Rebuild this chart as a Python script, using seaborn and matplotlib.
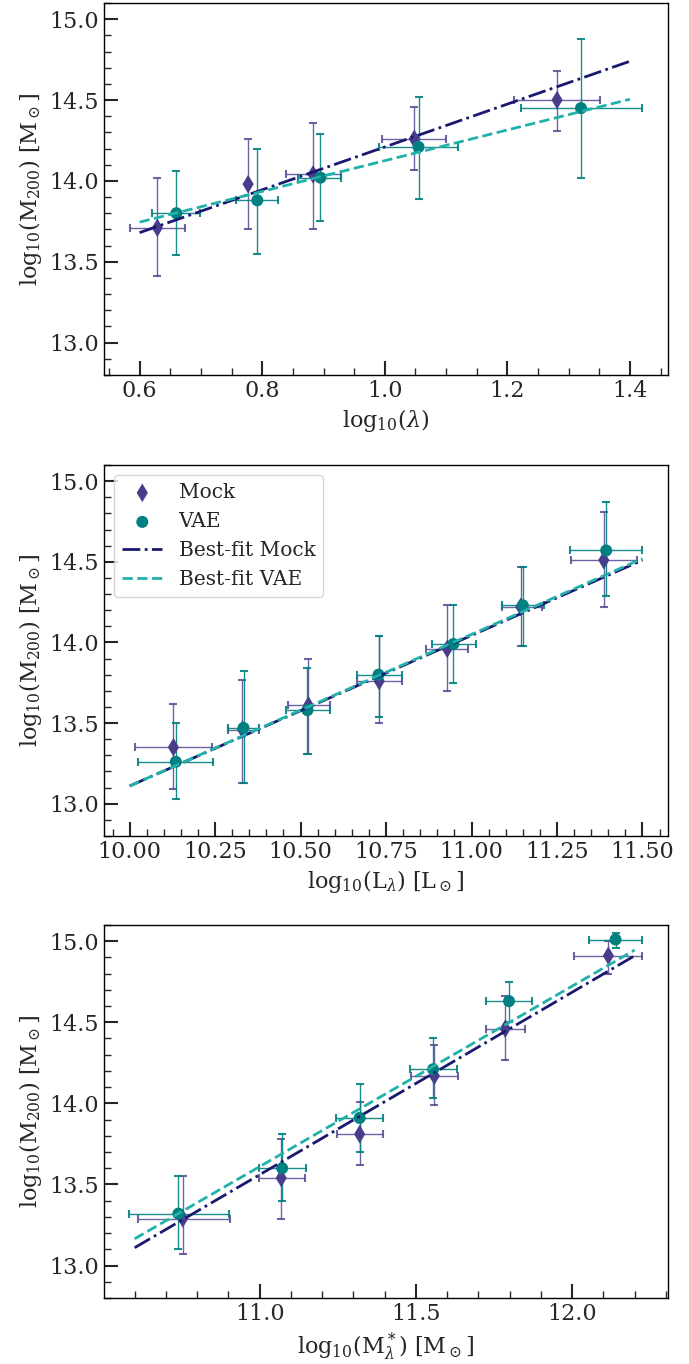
import numpy as np
import pandas as pd
import matplotlib
matplotlib.use('Agg')
import matplotlib.pyplot as plt
from matplotlib.ticker import MultipleLocator
import seaborn as sns

# ---------------- data ----------------
# panel 1: richness
lam_mock_x = [0.629, 0.777, 0.883, 1.048, 1.281]
lam_mock_xlo = [0.584, 0.774, 0.838, 0.996, 1.210]
lam_mock_xhi = [0.674, 0.780, 0.929, 1.100, 1.351]
lam_mock_y = [13.71, 13.98, 14.04, 14.26, 14.50]
lam_mock_ylo = [13.41, 13.70, 13.70, 14.07, 14.31]
lam_mock_yhi = [14.02, 14.26, 14.36, 14.46, 14.68]

lam_vae_x = [0.660, 0.792, 0.895, 1.055, 1.320]
lam_vae_xlo = [0.621, 0.757, 0.859, 0.990, 1.222]
lam_vae_xhi = [0.698, 0.825, 0.929, 1.120, 1.420]
lam_vae_y = [13.80, 13.88, 14.02, 14.21, 14.45]
lam_vae_ylo = [13.54, 13.55, 13.75, 13.89, 14.02]
lam_vae_yhi = [14.06, 14.20, 14.29, 14.52, 14.88]

lam_fit_x = [0.6, 1.4]
lam_fit_mock = [13.68, 14.74]
lam_fit_vae = [13.745, 14.505]

# panel 2: luminosity
lum_mock_x = [10.128, 10.330, 10.523, 10.730, 10.929, 11.144, 11.387]
lum_mock_xlo = [10.016, 10.288, 10.462, 10.666, 10.868, 11.088, 11.292]
lum_mock_xhi = [10.242, 10.378, 10.586, 10.797, 10.991, 11.205, 11.484]
lum_mock_y = [13.35, 13.46, 13.61, 13.76, 13.96, 14.22, 14.51]
lum_mock_ylo = [13.09, 13.13, 13.31, 13.50, 13.70, 13.98, 14.22]
lum_mock_yhi = [13.62, 13.77, 13.90, 14.04, 14.23, 14.47, 14.81]

lum_vae_x = [10.135, 10.333, 10.520, 10.728, 10.947, 11.150, 11.394]
lum_vae_xlo = [10.025, 10.288, 10.458, 10.666, 10.884, 11.088, 11.287]
lum_vae_xhi = [10.245, 10.378, 10.586, 10.797, 11.013, 11.211, 11.498]
lum_vae_y = [13.26, 13.47, 13.58, 13.80, 13.99, 14.23, 14.57]
lum_vae_ylo = [13.03, 13.13, 13.31, 13.54, 13.75, 13.98, 14.29]
lum_vae_yhi = [13.50, 13.82, 13.84, 14.04, 14.23, 14.47, 14.87]

lum_fit_x = [10.0, 11.5]
lum_fit_mock = [13.11, 14.51]
lum_fit_vae = [13.11, 14.52]

# panel 3: stellar mass
ms_mock_x = [10.754, 11.069, 11.320, 11.559, 11.786, 12.116]
ms_mock_xlo = [10.610, 10.998, 11.247, 11.484, 11.724, 12.006]
ms_mock_xhi = [10.906, 11.146, 11.395, 11.636, 11.849, 12.225]
ms_mock_y = [13.29, 13.54, 13.81, 14.17, 14.46, 14.91]
ms_mock_ylo = [13.07, 13.29, 13.62, 13.99, 14.27, 14.80]
ms_mock_yhi = [13.55, 13.78, 14.01, 14.36, 14.66, 15.00]

ms_vae_x = [10.740, 11.072, 11.320, 11.555, 11.798, 12.139]
ms_vae_xlo = [10.582, 10.998, 11.243, 11.482, 11.724, 12.053]
ms_vae_xhi = [10.903, 11.149, 11.395, 11.630, 11.873, 12.225]
ms_vae_y = [13.32, 13.60, 13.91, 14.21, 14.63, 15.01]
ms_vae_ylo = [13.10, 13.40, 13.70, 14.03, 14.50, 14.96]
ms_vae_yhi = [13.55, 13.81, 14.12, 14.40, 14.75, 15.05]

ms_fit_x = [10.6, 12.2]
ms_fit_mock = [13.11, 14.91]
ms_fit_vae = [13.165, 14.945]

# ---------------- style ----------------
sns.set_style('white')
plt.rcParams['font.family'] = ['DejaVu Serif']
plt.rcParams['mathtext.fontset'] = 'dejavuserif'
plt.rcParams['axes.edgecolor'] = 'black'
plt.rcParams['axes.linewidth'] = 1.0

c_mock = 'darkslateblue'
c_vae = 'teal'
c_fit_mock = 'midnightblue'
c_fit_vae = 'lightseagreen'

panels = [
    dict(mx=lam_mock_x, mxlo=lam_mock_xlo, mxhi=lam_mock_xhi, my=lam_mock_y,
         mylo=lam_mock_ylo, myhi=lam_mock_yhi,
         vx=lam_vae_x, vxlo=lam_vae_xlo, vxhi=lam_vae_xhi, vy=lam_vae_y,
         vylo=lam_vae_ylo, vyhi=lam_vae_yhi,
         fx=lam_fit_x, fm=lam_fit_mock, fv=lam_fit_vae,
         xlabel=r'$\mathrm{log}_{10}(\lambda)$', xlim=(0.542, 1.462),
         xmaj=0.2, xmin=0.05, legend=False),
    dict(mx=lum_mock_x, mxlo=lum_mock_xlo, mxhi=lum_mock_xhi, my=lum_mock_y,
         mylo=lum_mock_ylo, myhi=lum_mock_yhi,
         vx=lum_vae_x, vxlo=lum_vae_xlo, vxhi=lum_vae_xhi, vy=lum_vae_y,
         vylo=lum_vae_ylo, vyhi=lum_vae_yhi,
         fx=lum_fit_x, fm=lum_fit_mock, fv=lum_fit_vae,
         xlabel=r'$\mathrm{log}_{10}(\mathrm{L}_\lambda)$ [L$_\odot$]', xlim=(9.925, 11.575),
         xmaj=0.25, xmin=0.05, legend=True),
    dict(mx=ms_mock_x, mxlo=ms_mock_xlo, mxhi=ms_mock_xhi, my=ms_mock_y,
         mylo=ms_mock_ylo, myhi=ms_mock_yhi,
         vx=ms_vae_x, vxlo=ms_vae_xlo, vxhi=ms_vae_xhi, vy=ms_vae_y,
         vylo=ms_vae_ylo, vyhi=ms_vae_yhi,
         fx=ms_fit_x, fm=ms_fit_mock, fv=ms_fit_vae,
         xlabel=r'$\mathrm{log}_{10}(\mathrm{M}^*_\lambda)$ [M$_\odot$]', xlim=(10.502, 12.307),
         xmaj=0.5, xmin=0.1, legend=False),
]

positions = [
    [0.151, 0.7251, 0.8186, 0.2727],
    [0.151, 0.3871, 0.8186, 0.2720],
    [0.151, 0.0484, 0.8186, 0.2735],
]

fig, axes = plt.subplots(3, 1, figsize=(6.89, 13.64), dpi=100)

for ax, p, pos in zip(axes, panels, positions):
    ax.set_position(pos)
    mx, my, vx, vy = (np.array(p[k]) for k in ('mx', 'my', 'vx', 'vy'))

    # error bars
    ax.errorbar(mx, my,
                xerr=[mx - np.array(p['mxlo']), np.array(p['mxhi']) - mx],
                yerr=[my - np.array(p['mylo']), np.array(p['myhi']) - my],
                fmt='none', ecolor=c_mock, alpha=0.8, elinewidth=1.0,
                capsize=3, capthick=1.5, zorder=2)
    ax.errorbar(vx, vy,
                xerr=[vx - np.array(p['vxlo']), np.array(p['vxhi']) - vx],
                yerr=[vy - np.array(p['vylo']), np.array(p['vyhi']) - vy],
                fmt='none', ecolor=c_vae, alpha=0.9, elinewidth=1.0,
                capsize=3, capthick=1.5, zorder=2)

    # markers
    sns.scatterplot(x=mx, y=my, marker='d', s=90, color=c_mock,
                    edgecolor='none', label='Mock', ax=ax, zorder=3)
    sns.scatterplot(x=vx, y=vy, marker='o', s=75, color=c_vae,
                    edgecolor='none', label='VAE', ax=ax, zorder=3)

    # best-fit lines
    fit = pd.DataFrame({'x': p['fx'], 'mock': p['fm'], 'vae': p['fv']})
    sns.lineplot(data=fit, x='x', y='mock', color=c_fit_mock, linestyle='-.',
                 linewidth=2, label='Best-fit Mock', ax=ax, zorder=4)
    sns.lineplot(data=fit, x='x', y='vae', color=c_fit_vae, linestyle='--',
                 linewidth=2, label='Best-fit VAE', ax=ax, zorder=4)

    ax.set_xlim(*p['xlim'])
    ax.set_ylim(12.8, 15.1)
    ax.xaxis.set_major_locator(MultipleLocator(p['xmaj']))
    ax.xaxis.set_minor_locator(MultipleLocator(p['xmin']))
    ax.yaxis.set_major_locator(MultipleLocator(0.5))
    ax.yaxis.set_minor_locator(MultipleLocator(0.1))
    ax.tick_params(which='both', direction='in', top=False, right=False,
                   bottom=True, left=True, labelsize=16)
    ax.tick_params(which='major', length=10, width=1.5)
    ax.tick_params(which='minor', length=5, width=1.0)
    ax.set_xlabel(p['xlabel'], fontsize=16)
    ax.set_ylabel(r'$\mathrm{log}_{10}(\mathrm{M}_{200})$ [M$_\odot$]', fontsize=16)

    if p['legend']:
        ax.legend(loc='upper left', fontsize=14.5, frameon=True)
    else:
        ax.get_legend().remove()

fig.savefig('out.png', dpi=100)
